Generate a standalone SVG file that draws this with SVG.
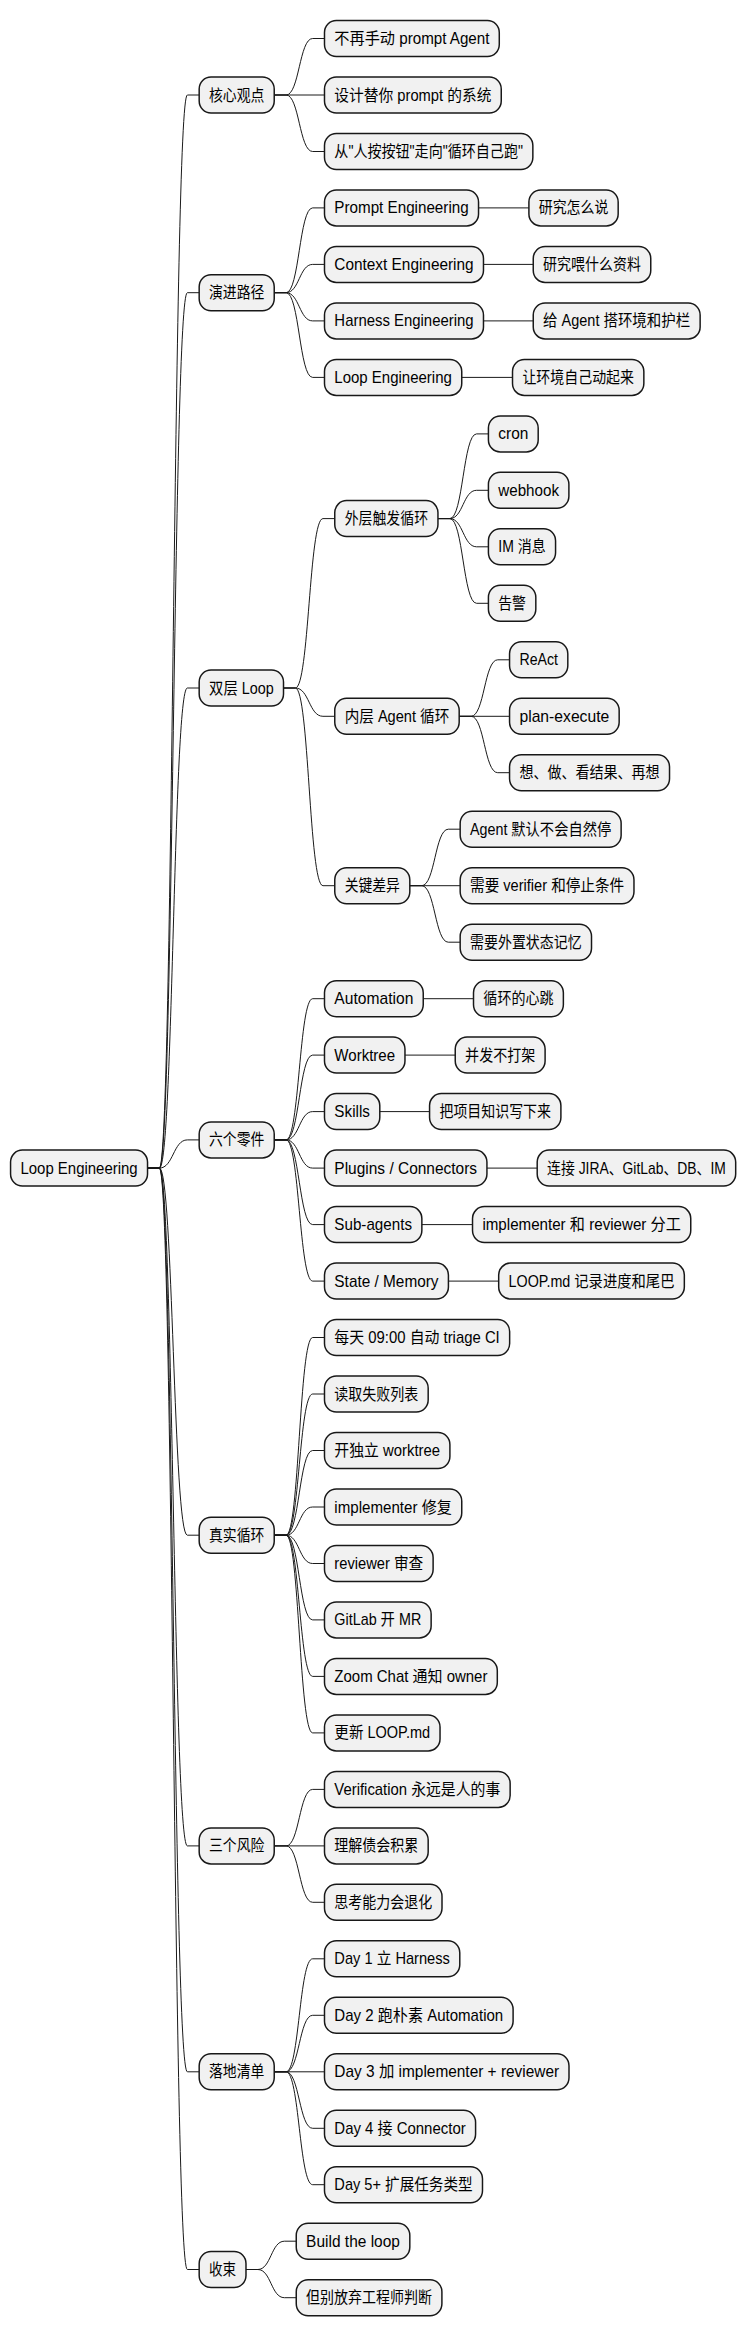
<svg xmlns="http://www.w3.org/2000/svg" width="756" height="2336" viewBox="0 0 756 2336">
<style>
rect{fill:#f1f1f1;stroke:#181818;stroke-width:1.5}
text{font-family:"Liberation Sans","Noto Sans CJK SC",sans-serif;font-size:16px;fill:#000}
#edges path{fill:none;stroke:#181818;stroke-width:1}
</style>
<rect x="0" y="0" width="756" height="2336" style="fill:#fff;stroke:none"/>
<g transform="scale(0.9875 1) translate(0 0.5)">
<g id="edges">
<path d="M149.4,1167.6H161.4C175.5,1167.6 175.5,94.5 189.7,94.5H201.7"/>
<path d="M149.4,1167.6H161.4C175.5,1167.6 175.5,292.2 189.7,292.2H201.7"/>
<path d="M149.4,1167.6H161.4C175.5,1167.6 175.5,687.5 189.7,687.5H201.7"/>
<path d="M149.4,1167.6H161.4C175.5,1167.6 175.5,1139.4 189.7,1139.4H201.7"/>
<path d="M149.4,1167.6H161.4C175.5,1167.6 175.5,1534.7 189.7,1534.7H201.7"/>
<path d="M149.4,1167.6H161.4C175.5,1167.6 175.5,1845.4 189.7,1845.4H201.7"/>
<path d="M149.4,1167.6H161.4C175.5,1167.6 175.5,2071.3 189.7,2071.3H201.7"/>
<path d="M149.4,1167.6H161.4C175.5,1167.6 175.5,2269 189.7,2269H201.7"/>
<path d="M277.7,94.5H289.7C303.1,94.5 303.1,38 316.6,38H328.6"/>
<path d="M277.7,94.5H328.6"/>
<path d="M277.7,94.5H289.7C303.1,94.5 303.1,151 316.6,151H328.6"/>
<path d="M277.7,292.2H289.7C303.1,292.2 303.1,207.4 316.6,207.4H328.6"/>
<path d="M277.7,292.2H289.7C303.1,292.2 303.1,263.9 316.6,263.9H328.6"/>
<path d="M277.7,292.2H289.7C303.1,292.2 303.1,320.4 316.6,320.4H328.6"/>
<path d="M277.7,292.2H289.7C303.1,292.2 303.1,376.9 316.6,376.9H328.6"/>
<path d="M484.6,207.4H535.6"/>
<path d="M489.6,263.9H540"/>
<path d="M489.6,320.4H540"/>
<path d="M467.6,376.9H519"/>
<path d="M287.1,687.5H299.1C313,687.5 313,518.1 327,518.1H339"/>
<path d="M287.1,687.5H299.1C313,687.5 313,715.8 327,715.8H339"/>
<path d="M287.1,687.5H299.1C313,687.5 313,885.2 327,885.2H339"/>
<path d="M443.5,518.1H455.5C469,518.1 469,433.4 482.6,433.4H494.6"/>
<path d="M443.5,518.1H455.5C469,518.1 469,489.8 482.6,489.8H494.6"/>
<path d="M443.5,518.1H455.5C469,518.1 469,546.3 482.6,546.3H494.6"/>
<path d="M443.5,518.1H455.5C469,518.1 469,602.8 482.6,602.8H494.6"/>
<path d="M465,715.8H477C490.5,715.8 490.5,659.3 504,659.3H516"/>
<path d="M465,715.8H516"/>
<path d="M465,715.8H477C490.5,715.8 490.5,772.2 504,772.2H516"/>
<path d="M415,885.2H427C440.5,885.2 440.5,828.7 454,828.7H466"/>
<path d="M415,885.2H466"/>
<path d="M415,885.2H427C440.5,885.2 440.5,941.7 454,941.7H466"/>
<path d="M277.7,1139.4H289.7C303.1,1139.4 303.1,998.2 316.6,998.2H328.6"/>
<path d="M277.7,1139.4H289.7C303.1,1139.4 303.1,1054.6 316.6,1054.6H328.6"/>
<path d="M277.7,1139.4H289.7C303.1,1139.4 303.1,1111.1 316.6,1111.1H328.6"/>
<path d="M277.7,1139.4H289.7C303.1,1139.4 303.1,1167.6 316.6,1167.6H328.6"/>
<path d="M277.7,1139.4H289.7C303.1,1139.4 303.1,1224.1 316.6,1224.1H328.6"/>
<path d="M277.7,1139.4H289.7C303.1,1139.4 303.1,1280.6 316.6,1280.6H328.6"/>
<path d="M428.6,998.2H479.5"/>
<path d="M410.1,1054.6H461"/>
<path d="M384.6,1111.1H435"/>
<path d="M493.1,1167.6H544"/>
<path d="M427.2,1224.1H478.5"/>
<path d="M454.1,1280.6H505"/>
<path d="M277.7,1534.7H289.7C303.1,1534.7 303.1,1337 316.6,1337H328.6"/>
<path d="M277.7,1534.7H289.7C303.1,1534.7 303.1,1393.5 316.6,1393.5H328.6"/>
<path d="M277.7,1534.7H289.7C303.1,1534.7 303.1,1450 316.6,1450H328.6"/>
<path d="M277.7,1534.7H289.7C303.1,1534.7 303.1,1506.5 316.6,1506.5H328.6"/>
<path d="M277.7,1534.7H289.7C303.1,1534.7 303.1,1563 316.6,1563H328.6"/>
<path d="M277.7,1534.7H289.7C303.1,1534.7 303.1,1619.4 316.6,1619.4H328.6"/>
<path d="M277.7,1534.7H289.7C303.1,1534.7 303.1,1675.9 316.6,1675.9H328.6"/>
<path d="M277.7,1534.7H289.7C303.1,1534.7 303.1,1732.4 316.6,1732.4H328.6"/>
<path d="M277.7,1845.4H289.7C303.1,1845.4 303.1,1788.9 316.6,1788.9H328.6"/>
<path d="M277.7,1845.4H328.6"/>
<path d="M277.7,1845.4H289.7C303.1,1845.4 303.1,1901.8 316.6,1901.8H328.6"/>
<path d="M277.7,2071.3H289.7C303.1,2071.3 303.1,1958.3 316.6,1958.3H328.6"/>
<path d="M277.7,2071.3H289.7C303.1,2071.3 303.1,2014.8 316.6,2014.8H328.6"/>
<path d="M277.7,2071.3H328.6"/>
<path d="M277.7,2071.3H289.7C303.1,2071.3 303.1,2127.8 316.6,2127.8H328.6"/>
<path d="M277.7,2071.3H289.7C303.1,2071.3 303.1,2184.2 316.6,2184.2H328.6"/>
<path d="M249.1,2269H261.1C274.5,2269 274.5,2240.7 288,2240.7H300"/>
<path d="M249.1,2269H261.1C274.5,2269 274.5,2297.2 288,2297.2H300"/>
</g>
<g id="root"><rect x="10.7" y="1149.6" width="138.7" height="36" rx="12"/><text x="20.7" y="1173.2" textLength="118.7" lengthAdjust="spacingAndGlyphs">Loop Engineering</text></g>
<g id="n1"><rect x="201.7" y="76.5" width="76" height="36" rx="12"/><text x="211.7" y="100.1" textLength="56" lengthAdjust="spacingAndGlyphs">核心观点</text></g>
<g id="n1a"><rect x="328.6" y="20" width="177" height="36" rx="12"/><text x="338.6" y="43.6" textLength="157" lengthAdjust="spacingAndGlyphs">不再手动 prompt Agent</text></g>
<g id="n1b"><rect x="328.6" y="76.5" width="179" height="36" rx="12"/><text x="338.6" y="100.1" textLength="159" lengthAdjust="spacingAndGlyphs">设计替你 prompt 的系统</text></g>
<g id="n1c"><rect x="328.6" y="133" width="211" height="36" rx="12"/><text x="338.6" y="156.6" textLength="191" lengthAdjust="spacingAndGlyphs">从"人按按钮"走向"循环自己跑"</text></g>
<g id="n2"><rect x="201.7" y="274.2" width="76" height="36" rx="12"/><text x="211.7" y="297.8" textLength="56" lengthAdjust="spacingAndGlyphs">演进路径</text></g>
<g id="n2a"><rect x="328.6" y="189.4" width="156" height="36" rx="12"/><text x="338.6" y="213" textLength="136" lengthAdjust="spacingAndGlyphs">Prompt Engineering</text></g>
<g id="n2a1"><rect x="535.6" y="189.4" width="90.4" height="36" rx="12"/><text x="545.6" y="213" textLength="70.4" lengthAdjust="spacingAndGlyphs">研究怎么说</text></g>
<g id="n2b"><rect x="328.6" y="245.9" width="161" height="36" rx="12"/><text x="338.6" y="269.5" textLength="141" lengthAdjust="spacingAndGlyphs">Context Engineering</text></g>
<g id="n2b1"><rect x="540" y="245.9" width="119" height="36" rx="12"/><text x="550" y="269.5" textLength="99" lengthAdjust="spacingAndGlyphs">研究喂什么资料</text></g>
<g id="n2c"><rect x="328.6" y="302.4" width="161" height="36" rx="12"/><text x="338.6" y="326" textLength="141" lengthAdjust="spacingAndGlyphs">Harness Engineering</text></g>
<g id="n2c1"><rect x="540" y="302.4" width="169" height="36" rx="12"/><text x="550" y="326" textLength="149" lengthAdjust="spacingAndGlyphs">给 Agent 搭环境和护栏</text></g>
<g id="n2d"><rect x="328.6" y="358.9" width="139" height="36" rx="12"/><text x="338.6" y="382.5" textLength="119" lengthAdjust="spacingAndGlyphs">Loop Engineering</text></g>
<g id="n2d1"><rect x="519" y="358.9" width="133" height="36" rx="12"/><text x="529" y="382.5" textLength="113" lengthAdjust="spacingAndGlyphs">让环境自己动起来</text></g>
<g id="n3"><rect x="201.7" y="669.5" width="85.4" height="36" rx="12"/><text x="211.7" y="693.1" textLength="65.4" lengthAdjust="spacingAndGlyphs">双层 Loop</text></g>
<g id="n3a"><rect x="339" y="500.1" width="104.5" height="36" rx="12"/><text x="349" y="523.7" textLength="84.5" lengthAdjust="spacingAndGlyphs">外层触发循环</text></g>
<g id="n3a1"><rect x="494.6" y="415.4" width="50.4" height="36" rx="12"/><text x="504.6" y="439" textLength="30.4" lengthAdjust="spacingAndGlyphs">cron</text></g>
<g id="n3a2"><rect x="494.6" y="471.8" width="81.5" height="36" rx="12"/><text x="504.6" y="495.4" textLength="61.5" lengthAdjust="spacingAndGlyphs">webhook</text></g>
<g id="n3a3"><rect x="494.6" y="528.3" width="68" height="36" rx="12"/><text x="504.6" y="551.9" textLength="48" lengthAdjust="spacingAndGlyphs">IM 消息</text></g>
<g id="n3a4"><rect x="494.6" y="584.8" width="48" height="36" rx="12"/><text x="504.6" y="608.4" textLength="28" lengthAdjust="spacingAndGlyphs">告警</text></g>
<g id="n3b"><rect x="339" y="697.8" width="126" height="36" rx="12"/><text x="349" y="721.4" textLength="106" lengthAdjust="spacingAndGlyphs">内层 Agent 循环</text></g>
<g id="n3b1"><rect x="516" y="641.3" width="59" height="36" rx="12"/><text x="526" y="664.9" textLength="39" lengthAdjust="spacingAndGlyphs">ReAct</text></g>
<g id="n3b2"><rect x="516" y="697.8" width="111" height="36" rx="12"/><text x="526" y="721.4" textLength="91" lengthAdjust="spacingAndGlyphs">plan-execute</text></g>
<g id="n3b3"><rect x="516" y="754.2" width="162" height="36" rx="12"/><text x="526" y="777.8" textLength="142" lengthAdjust="spacingAndGlyphs">想、做、看结果、再想</text></g>
<g id="n3c"><rect x="339" y="867.2" width="76" height="36" rx="12"/><text x="349" y="890.8" textLength="56" lengthAdjust="spacingAndGlyphs">关键差异</text></g>
<g id="n3c1"><rect x="466" y="810.7" width="163" height="36" rx="12"/><text x="476" y="834.3" textLength="143" lengthAdjust="spacingAndGlyphs">Agent 默认不会自然停</text></g>
<g id="n3c2"><rect x="466" y="867.2" width="176" height="36" rx="12"/><text x="476" y="890.8" textLength="156" lengthAdjust="spacingAndGlyphs">需要 verifier 和停止条件</text></g>
<g id="n3c3"><rect x="466" y="923.7" width="133" height="36" rx="12"/><text x="476" y="947.3" textLength="113" lengthAdjust="spacingAndGlyphs">需要外置状态记忆</text></g>
<g id="n4"><rect x="201.7" y="1121.4" width="76" height="36" rx="12"/><text x="211.7" y="1145" textLength="56" lengthAdjust="spacingAndGlyphs">六个零件</text></g>
<g id="n4a"><rect x="328.6" y="980.2" width="100" height="36" rx="12"/><text x="338.6" y="1003.8" textLength="80" lengthAdjust="spacingAndGlyphs">Automation</text></g>
<g id="n4a1"><rect x="479.5" y="980.2" width="91" height="36" rx="12"/><text x="489.5" y="1003.8" textLength="71" lengthAdjust="spacingAndGlyphs">循环的心跳</text></g>
<g id="n4b"><rect x="328.6" y="1036.6" width="81.5" height="36" rx="12"/><text x="338.6" y="1060.2" textLength="61.5" lengthAdjust="spacingAndGlyphs">Worktree</text></g>
<g id="n4b1"><rect x="461" y="1036.6" width="91" height="36" rx="12"/><text x="471" y="1060.2" textLength="71" lengthAdjust="spacingAndGlyphs">并发不打架</text></g>
<g id="n4c"><rect x="328.6" y="1093.1" width="56" height="36" rx="12"/><text x="338.6" y="1116.7" textLength="36" lengthAdjust="spacingAndGlyphs">Skills</text></g>
<g id="n4c1"><rect x="435" y="1093.1" width="133" height="36" rx="12"/><text x="445" y="1116.7" textLength="113" lengthAdjust="spacingAndGlyphs">把项目知识写下来</text></g>
<g id="n4d"><rect x="328.6" y="1149.6" width="164.5" height="36" rx="12"/><text x="338.6" y="1173.2" textLength="144.5" lengthAdjust="spacingAndGlyphs">Plugins / Connectors</text></g>
<g id="n4d1"><rect x="544" y="1149.6" width="201" height="36" rx="12"/><text x="554" y="1173.2" textLength="181" lengthAdjust="spacingAndGlyphs">连接 JIRA、GitLab、DB、IM</text></g>
<g id="n4e"><rect x="328.6" y="1206.1" width="98.6" height="36" rx="12"/><text x="338.6" y="1229.7" textLength="78.6" lengthAdjust="spacingAndGlyphs">Sub-agents</text></g>
<g id="n4e1"><rect x="478.5" y="1206.1" width="221" height="36" rx="12"/><text x="488.5" y="1229.7" textLength="201" lengthAdjust="spacingAndGlyphs">implementer 和 reviewer 分工</text></g>
<g id="n4f"><rect x="328.6" y="1262.6" width="125.5" height="36" rx="12"/><text x="338.6" y="1286.2" textLength="105.5" lengthAdjust="spacingAndGlyphs">State / Memory</text></g>
<g id="n4f1"><rect x="505" y="1262.6" width="188" height="36" rx="12"/><text x="515" y="1286.2" textLength="168" lengthAdjust="spacingAndGlyphs">LOOP.md 记录进度和尾巴</text></g>
<g id="n5"><rect x="201.7" y="1516.7" width="76" height="36" rx="12"/><text x="211.7" y="1540.3" textLength="56" lengthAdjust="spacingAndGlyphs">真实循环</text></g>
<g id="n5a"><rect x="328.6" y="1319" width="187.5" height="36" rx="12"/><text x="338.6" y="1342.6" textLength="167.5" lengthAdjust="spacingAndGlyphs">每天 09:00 自动 triage CI</text></g>
<g id="n5b"><rect x="328.6" y="1375.5" width="105" height="36" rx="12"/><text x="338.6" y="1399.1" textLength="85" lengthAdjust="spacingAndGlyphs">读取失败列表</text></g>
<g id="n5c"><rect x="328.6" y="1432" width="127" height="36" rx="12"/><text x="338.6" y="1455.6" textLength="107" lengthAdjust="spacingAndGlyphs">开独立 worktree</text></g>
<g id="n5d"><rect x="328.6" y="1488.5" width="139" height="36" rx="12"/><text x="338.6" y="1512.1" textLength="119" lengthAdjust="spacingAndGlyphs">implementer 修复</text></g>
<g id="n5e"><rect x="328.6" y="1545" width="110" height="36" rx="12"/><text x="338.6" y="1568.6" textLength="90" lengthAdjust="spacingAndGlyphs">reviewer 审查</text></g>
<g id="n5f"><rect x="328.6" y="1601.4" width="108" height="36" rx="12"/><text x="338.6" y="1625" textLength="88" lengthAdjust="spacingAndGlyphs">GitLab 开 MR</text></g>
<g id="n5g"><rect x="328.6" y="1657.9" width="175" height="36" rx="12"/><text x="338.6" y="1681.5" textLength="155" lengthAdjust="spacingAndGlyphs">Zoom Chat 通知 owner</text></g>
<g id="n5h"><rect x="328.6" y="1714.4" width="117" height="36" rx="12"/><text x="338.6" y="1738" textLength="97" lengthAdjust="spacingAndGlyphs">更新 LOOP.md</text></g>
<g id="n6"><rect x="201.7" y="1827.4" width="76" height="36" rx="12"/><text x="211.7" y="1851" textLength="56" lengthAdjust="spacingAndGlyphs">三个风险</text></g>
<g id="n6a"><rect x="328.6" y="1770.9" width="188" height="36" rx="12"/><text x="338.6" y="1794.5" textLength="168" lengthAdjust="spacingAndGlyphs">Verification 永远是人的事</text></g>
<g id="n6b"><rect x="328.6" y="1827.4" width="105" height="36" rx="12"/><text x="338.6" y="1851" textLength="85" lengthAdjust="spacingAndGlyphs">理解债会积累</text></g>
<g id="n6c"><rect x="328.6" y="1883.8" width="119" height="36" rx="12"/><text x="338.6" y="1907.4" textLength="99" lengthAdjust="spacingAndGlyphs">思考能力会退化</text></g>
<g id="n7"><rect x="201.7" y="2053.3" width="76" height="36" rx="12"/><text x="211.7" y="2076.9" textLength="56" lengthAdjust="spacingAndGlyphs">落地清单</text></g>
<g id="n7a"><rect x="328.6" y="1940.3" width="137" height="36" rx="12"/><text x="338.6" y="1963.9" textLength="117" lengthAdjust="spacingAndGlyphs">Day 1 立 Harness</text></g>
<g id="n7b"><rect x="328.6" y="1996.8" width="191" height="36" rx="12"/><text x="338.6" y="2020.4" textLength="171" lengthAdjust="spacingAndGlyphs">Day 2 跑朴素 Automation</text></g>
<g id="n7c"><rect x="328.6" y="2053.3" width="247.6" height="36" rx="12"/><text x="338.6" y="2076.9" textLength="227.6" lengthAdjust="spacingAndGlyphs">Day 3 加 implementer + reviewer</text></g>
<g id="n7d"><rect x="328.6" y="2109.8" width="153" height="36" rx="12"/><text x="338.6" y="2133.4" textLength="133" lengthAdjust="spacingAndGlyphs">Day 4 接 Connector</text></g>
<g id="n7e"><rect x="328.6" y="2166.2" width="160" height="36" rx="12"/><text x="338.6" y="2189.8" textLength="140" lengthAdjust="spacingAndGlyphs">Day 5+ 扩展任务类型</text></g>
<g id="n8"><rect x="201.7" y="2251" width="47.4" height="36" rx="12"/><text x="211.7" y="2274.6" textLength="27.4" lengthAdjust="spacingAndGlyphs">收束</text></g>
<g id="n8a"><rect x="300" y="2222.7" width="115" height="36" rx="12"/><text x="310" y="2246.3" textLength="95" lengthAdjust="spacingAndGlyphs">Build the loop</text></g>
<g id="n8b"><rect x="300" y="2279.2" width="147.5" height="36" rx="12"/><text x="310" y="2302.8" textLength="127.5" lengthAdjust="spacingAndGlyphs">但别放弃工程师判断</text></g>
</g>
</svg>
